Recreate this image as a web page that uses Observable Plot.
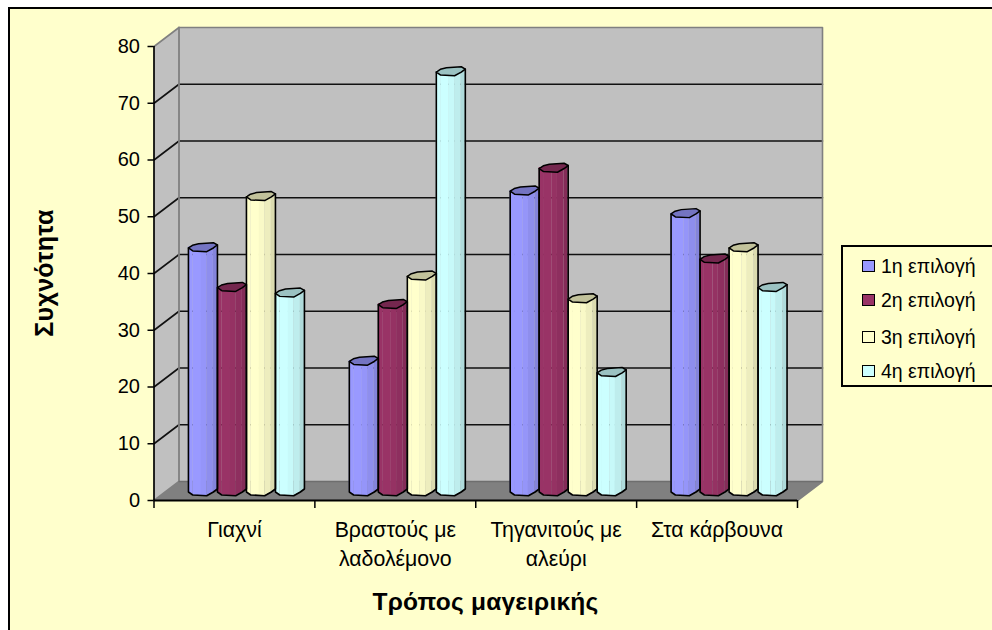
<!DOCTYPE html>
<html lang="el">
<head>
<meta charset="utf-8">
<script src="https://cdn.jsdelivr.net/npm/d3@7"></script>
<script src="https://cdn.jsdelivr.net/npm/@observablehq/plot@0.6"></script>
<style>
  html, body { margin: 0; padding: 0; background: #fff; overflow: hidden; }
  #page { position: relative; width: 992px; height: 630px; overflow: hidden; font-family: "Liberation Sans", Arial, sans-serif; color: #000; }
  #frame { position: absolute; left: 8px; top: 7px; width: 1100px; height: 800px; background: #FFFFCC; border: 2px solid #000; }
  #chart { position: absolute; left: 0; top: 0; }
  #legend { position: absolute; left: 841px; top: 245px; width: 200px; height: 142px; border: 2px solid #000; box-sizing: border-box; }
  .entry { position: absolute; font-size: 19.5px; line-height: 18px; white-space: nowrap; }
  .entry i { position: absolute; left: -19px; top: 3px; width: 11px; height: 10px; border: 1.5px solid #000; }
  #ytitle { position: absolute; left: 44px; top: 273px; font-size: 25px; font-weight: bold; transform: translate(-50%, -50%) rotate(-90deg); white-space: nowrap; letter-spacing: 0.3px; }
  #xtitle { position: absolute; left: 485.5px; top: 602px; font-size: 24.5px; font-weight: bold; transform: translate(-50%, -50%); white-space: nowrap; letter-spacing: 0.2px; }
</style>
</head>
<body>
<div id="page">
  <div id="frame"></div>
  <div id="chart"></div>
  <div id="ytitle"></div>
  <div id="xtitle"></div>
  <div id="legend"></div>
</div>
<script>
// Survey answers: how often each cooking method was picked as 1st to 4th choice.
const categories = ["Γιαχνί", "Βραστούς με\nλαδολέμονο", "Τηγανιτούς με\nαλεύρι", "Στα κάρβουνα"];
const seriesNames = ["1η επιλογή", "2η επιλογή", "3η επιλογή", "4η επιλογή"];
const firstChoice = [43, 23, 53, 49];
const secondChoice = [36, 33, 57, 41];
const thirdChoice = [52, 38, 34, 43];
const fourthChoice = [35, 74, 21, 36];
const seriesColors = ["#9999FF", "#993366", "#FFFFCC", "#CCFFFF"];
const yTicks = [0, 10, 20, 30, 40, 50, 60, 70, 80];
const yTitle = "Συχνότητα";
const xTitle = "Τρόπος μαγειρικής";

const allChoices = [firstChoice, secondChoice, thirdChoice, fourthChoice];

// Frame of the plot in pixels; every mark goes through the x and y scales.
const frontLeft = 153.5, frontRight = 797, frontTop = 46, frontBottom = 500;
const unitX = (frontRight - frontLeft) / categories.length;   // pixels per category
const unitY = (frontBottom - frontTop) / 80;                  // pixels per value unit
const pxX = (p) => p / unitX;
const pxY = (p) => p / unitY;

// Oblique projection: how far the rear plane is shifted from the front plane.
const depthX = pxX(25), depthY = pxY(19);
const barWidth = pxX(29);

// Cylinder rim, as (fraction of bar width, pixels below centre).
const rim = [[0, 1], [0.14, -1.7], [0.35, -3.3], [0.86, -4.3], [1, -2], [0.86, 1], [0.63, 4.7], [0.15, 4], [0, 1]];
const lowerRim = d3.scaleLinear([0, 0.15, 0.63, 0.86, 1], [1, 4, 4.7, 1, -2]);

// Lighter to darker vertical strips that give the cylinder its shading.
const stripEdges = [0, 0.15, 0.45, 0.63, 0.86, 1];
const stripShades = [1, 1, 0.975, 0.93, 0.86];
const shade = (color, k) => {
  const c = d3.rgb(color);
  return d3.rgb(c.r * k, c.g * k, c.b * k).formatHex();
};

const bars = allChoices.flatMap((values, s) =>
  values.map((value, c) => ({
    id: `${s}-${c}`, s, c, value,
    left: c + 0.5 + (s - 2) * barWidth + depthX / 2 - pxX(0.5),
    base: depthY / 2,
    top: value + depthY / 2
  }))
);

const strips = bars.flatMap((b) =>
  stripShades.flatMap((k, i) => {
    const id = `${b.id}-${i}`, fill = shade(seriesColors[b.s], k);
    return [stripEdges[i], stripEdges[i + 1]].map((u) => ({
      id, fill, x: b.left + u * barWidth, y1: b.base - pxY(lowerRim(u)), y2: b.top
    }));
  })
);

const tops = bars.flatMap((b) =>
  rim.map(([u, v]) => ({
    id: b.id, fill: shade(seriesColors[b.s], 0.76), x: b.left + u * barWidth, y: b.top - pxY(v)
  }))
);

const outlines = bars.flatMap((b) => [
  { id: b.id, x: b.left, y: b.top - pxY(1) },
  ...[0, 0.15, 0.63, 0.86, 1].map((u) => ({ id: b.id, x: b.left + u * barWidth, y: b.base - pxY(lowerRim(u)) })),
  { id: b.id, x: b.left + barWidth, y: b.top + pxY(2) }
]);

// Walls and floor of the box.
const sideWall = [
  { x: 0, y: 0 }, { x: depthX, y: depthY }, { x: depthX, y: 80 + depthY }, { x: 0, y: 80 }, { x: 0, y: 0 }
];
const floor = [
  { x: 0, y: 0 }, { x: depthX, y: depthY }, { x: 4 + depthX, y: depthY }, { x: 4, y: 0 }, { x: 0, y: 0 }
];
const rearOutline = [
  { x: 0, y: 80 }, { x: depthX, y: 80 + depthY }, { x: 4 + depthX, y: 80 + depthY }, { x: 4 + depthX, y: depthY },
  { x: 4, y: 0 }
];
const rearFoot = [
  { x: 0, y: 0 }, { x: depthX, y: depthY }, { x: depthX, y: 80 + depthY }
];
const gridLevels = yTicks.filter((t) => t > 0 && t < 80);
const gridLines = gridLevels.flatMap((t) => [
  { t, x: 0, y: t }, { t, x: depthX, y: t + depthY }, { t, x: 4 + depthX, y: t + depthY }
]);

const plot = Plot.plot({
  width: 992,
  height: 630,
  marginLeft: frontLeft,
  marginRight: 992 - frontRight,
  marginTop: frontTop,
  marginBottom: 630 - frontBottom,
  x: { domain: [0, 4], axis: null },
  y: { domain: [0, 80], axis: null },
  color: { type: "identity" },
  style: { background: "transparent", fontFamily: "'Liberation Sans', Arial, sans-serif", overflow: "visible" },
  marks: [
    Plot.rect([0], { x1: depthX, x2: 4 + depthX, y1: depthY, y2: 80 + depthY, fill: "#C0C0C0" }),
    Plot.line(sideWall, { x: "x", y: "y", fill: "#C0C0C0", stroke: null }),
    Plot.line(floor, { x: "x", y: "y", fill: "#808080", stroke: null }),
    Plot.line(gridLines, { x: "x", y: "y", z: "t", stroke: "#111", strokeWidth: 1.6 }),
    Plot.line(rearOutline, { x: "x", y: "y", stroke: "#808080", strokeWidth: 1.6 }),
    Plot.line(rearFoot, { x: "x", y: "y", stroke: "#808080", strokeWidth: 1.8 }),
    Plot.ruleY([depthY], { x1: depthX, x2: 4 + depthX, stroke: "#6E6E6E", strokeWidth: 1.6 }),
    Plot.ruleX([0], { y1: 0, y2: 80, stroke: "#000", strokeWidth: 1.7 }),
    Plot.ruleY([0], { x1: 0, x2: 4, stroke: "#000", strokeWidth: 2 }),
    Plot.axisY({ ticks: yTicks, tickSize: 6, tickPadding: 8, fontSize: 20, label: null, strokeWidth: 1.5 }),
    Plot.axisX({ ticks: [0, 1, 2, 3, 4], tickSize: 8, tickFormat: () => "", label: null, strokeWidth: 1.5 }),
    Plot.text(categories, {
      x: (d, i) => i + 0.5, y: 0, dy: 16, text: (d) => d,
      lineAnchor: "top", lineHeight: 1.36, fontSize: 21.3, fill: "#000"
    }),
    Plot.areaY(strips, { x: "x", y1: "y1", y2: "y2", z: "id", fill: "fill", curve: "linear" }),
    Plot.line(outlines, { x: "x", y: "y", z: "id", stroke: "#000", strokeWidth: 1.6, curve: "linear" }),
    Plot.line(tops, { x: "x", y: "y", z: "id", fill: "fill", stroke: "#000", strokeWidth: 1.5, curve: "linear" })
  ]
});
document.getElementById("chart").append(plot);

document.getElementById("ytitle").textContent = yTitle;
document.getElementById("xtitle").textContent = xTitle;

const legendRows = [10, 44, 81, 115];
const legend = document.getElementById("legend");
seriesNames.forEach((name, i) => {
  const entry = document.createElement("div");
  entry.className = "entry";
  entry.style.left = "38px";
  entry.style.top = legendRows[i] + "px";
  const swatch = document.createElement("i");
  swatch.style.background = seriesColors[i];
  entry.append(swatch, name);
  legend.append(entry);
});
</script>
</body>
</html>
